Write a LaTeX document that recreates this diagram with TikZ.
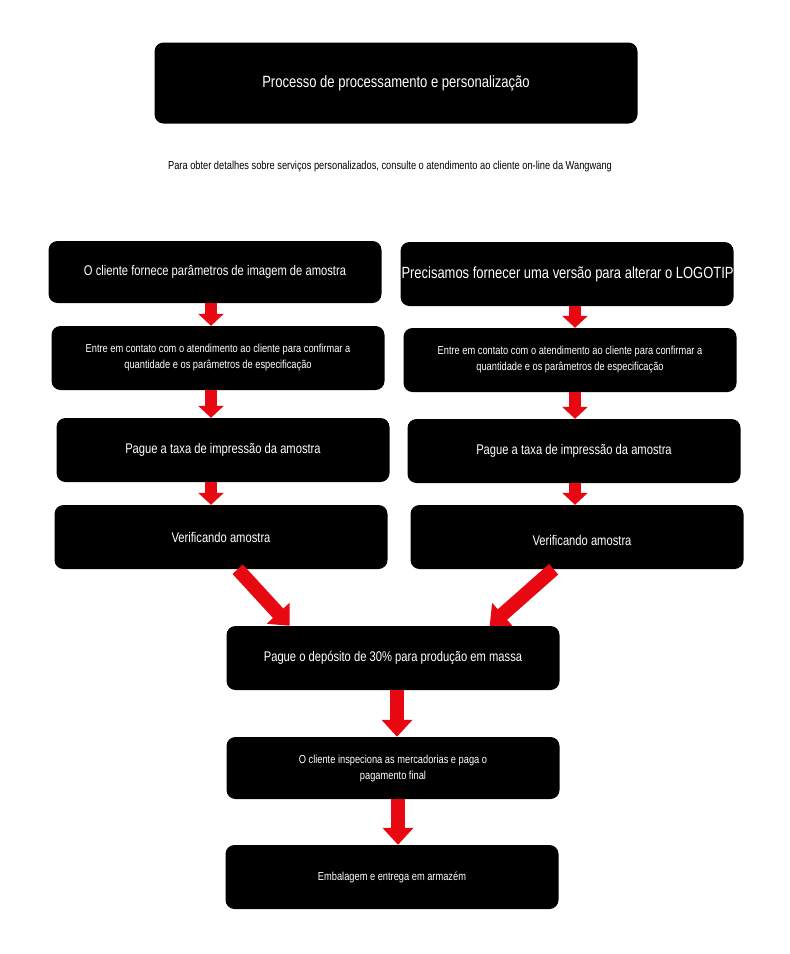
\documentclass[tikz,border=0pt]{standalone}
\usepackage{fontspec}
\setmainfont[FakeStretch=0.8]{Liberation Sans}
\usetikzlibrary{arrows.meta, calc}

\definecolor{arrowred}{RGB}{232,8,18}

\tikzset{
    stepbox/.style={fill=black, rounded corners=9pt, text=white, inner sep=0pt,
        minimum width=333pt, minimum height=64pt, align=center,
        font=\fontsize{14}{17}\selectfont},
    smalltext/.style={font=\fontsize{11.6}{16}\selectfont},
    redarrow/.style={draw=arrowred, line width=12pt,
        -{Triangle[width=25pt, length=12pt]}},
    fatarrow/.style={draw=arrowred, line width=14pt,
        -{Triangle[width=30pt, length=17pt]}},
}

\begin{document}
\begin{tikzpicture}[x=1pt, y=-1pt]
    \useasboundingbox (0,0) rectangle (790,954);

    % Title
    \node[stepbox, minimum width=483pt, minimum height=81pt,
        font=\fontsize{16.3}{19}\selectfont] (title) at (396, 83)
        {Processo de processamento e personalização};
    \node[smalltext] (note) at (390, 167)
        {Para obter detalhes sobre serviços personalizados, consulte o atendimento ao cliente on-line da Wangwang};

    % Left column
    \node[stepbox, minimum height=62pt] (L1) at (215, 272)
        {O cliente fornece parâmetros de imagem de amostra};
    \node[stepbox, smalltext] (L2) at (218, 358)
        {Entre em contato com o atendimento ao cliente para confirmar a\\quantidade e os parâmetros de especificação};
    \node[stepbox] (L3) at (223, 450) {Pague a taxa de impressão da amostra};
    \node[stepbox] (L4) at (221, 537) {Verificando amostra};

    % Right column
    \node[stepbox] (R1) at (567, 274) {};
    \node[text=white, anchor=west, font=\fontsize{16.2}{19}\selectfont] (R1text) at (398, 274)
        {Precisamos fornecer uma versão para alterar o LOGOTIPO};
    \node[stepbox, smalltext] (R2) at (570, 360)
        {Entre em contato com o atendimento ao cliente para confirmar a\\quantidade e os parâmetros de especificação};
    \node[stepbox] (R3) at (574, 451) {Pague a taxa de impressão da amostra};
    \node[stepbox] (R4) at (577, 537) {};
    \node[text=white, font=\fontsize{14}{17}\selectfont] (R4text) at (582, 540) {Verificando amostra};

    % Common steps
    \node[stepbox] (M1) at (393, 658) {Pague o depósito de 30\% para produção em massa};
    \node[stepbox, smalltext, minimum height=62pt] (M2) at (393, 768)
        {O cliente inspeciona as mercadorias e paga o\\pagamento final};
    \node[stepbox, smalltext] (M3) at (392, 877) {Embalagem e entrega em armazém};

    % Arrows
    \draw[redarrow] ($(L1.south)+(-4,0)$) -- ($(L2.north)+(-7,0)$);
    \draw[redarrow] ($(L2.south)+(-7,0)$) -- ($(L3.north)+(-12,0)$);
    \draw[redarrow] ($(L3.south)+(-12,0)$) -- ($(L4.north)+(-10,0)$);
    \draw[redarrow] ($(R1.south)+(8,0)$) -- ($(R2.north)+(5,0)$);
    \draw[redarrow] ($(R2.south)+(5,0)$) -- ($(R3.north)+(1,0)$);
    \draw[redarrow] ($(R3.south)+(1,0)$) -- ($(R4.north)+(-2,0)$);
    \draw[fatarrow] ($(L4.south west)!0.55!(L4.south east)$) -- ($(M1.north west)!0.19!(M1.north east)$);
    \draw[fatarrow] ($(R4.south west)!0.43!(R4.south east)$) -- ($(M1.north west)!0.79!(M1.north east)$);
    \draw[fatarrow] ($(M1.south)+(4,0)$) -- ($(M2.north)+(4,0)$);
    \draw[fatarrow] ($(M2.south)+(5,0)$) -- ($(M3.north)+(6,0)$);
\end{tikzpicture}
\end{document}
